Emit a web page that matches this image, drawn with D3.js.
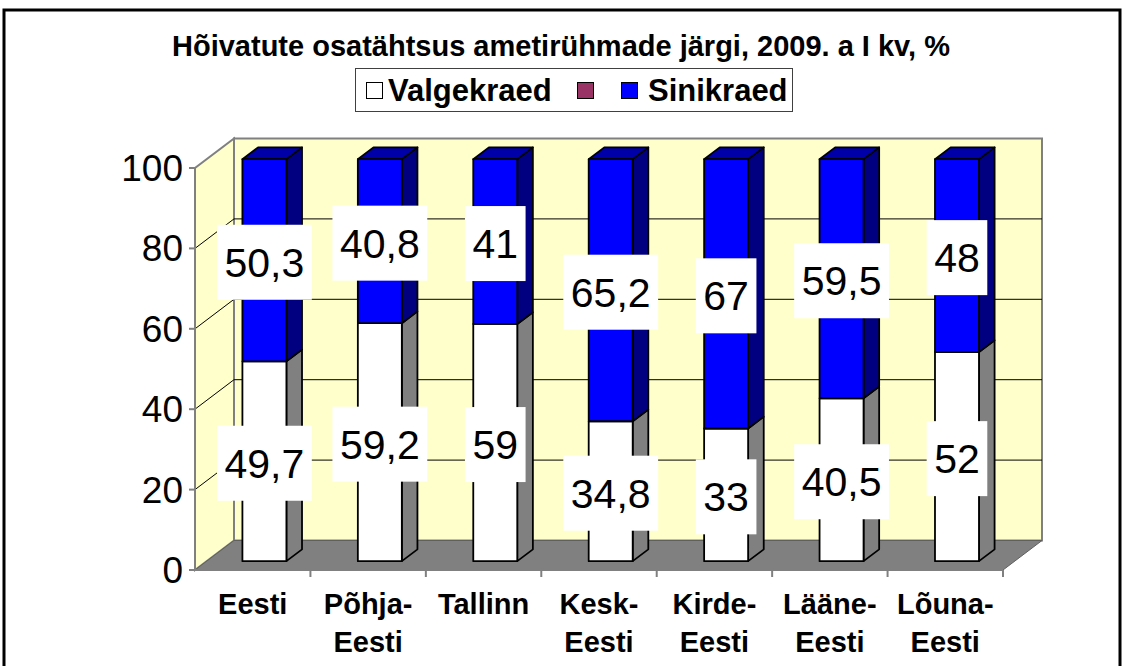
<!DOCTYPE html>
<html>
<head>
  <meta charset="utf-8">
  <title>Hõivatute osatähtsus</title>
  <script src="https://d3js.org/d3.v7.min.js"></script>
  <style>
    body { margin: 0; background: #fff; }
    text { font-family: Arial, "Liberation Sans", sans-serif; }
  </style>
</head>
<body>
<script type="text/javascript">
  // data
  var categories = ["Eesti", "Põhja-Eesti", "Tallinn", "Kesk-Eesti", "Kirde-Eesti", "Lääne-Eesti", "Lõuna-Eesti"];
  var valgekraed = [49.7, 59.2, 59, 34.8, 33, 40.5, 52];
  var sinikraed = [50.3, 40.8, 41, 65.2, 67, 59.5, 48];
  var seriesNames = ["Valgekraed", "", "Sinikraed"];
  var yTicks = [0, 20, 40, 60, 80, 100];
  var title = "Hõivatute osatähtsus ametirühmade järgi, 2009. a I kv, %";

  var w = 1126;
  var h = 666;

  // 3d depth of the plot box
  var DX = 39, DY = -29.5;
  var barW = 44;
  var front = 0.3, depth = 0.4;   // bars sit from 0.3 to 0.7 of the depth

  var svg = d3.select("body").append("svg")
    .attr("width", w)
    .attr("height", h);

  // outer frame
  svg.append("rect")
    .attr("x", 4).attr("y", 10)
    .attr("width", 1116).attr("height", 720)
    .attr("fill", "#fff")
    .attr("stroke", "#000")
    .attr("stroke-width", 3);

  svg.append("text")
    .attr("x", 561).attr("y", 56)
    .attr("text-anchor", "middle")
    .attr("font-size", "29px")
    .attr("font-weight", "bold")
    .text(title);

  var xScale = d3.scaleBand()
    .domain(categories)
    .range([195, 1003]);

  var yScale = d3.scaleLinear()
    .domain([0, 100])
    .range([570, 168]);

  var x0 = xScale.range()[0], x1 = xScale.range()[1];
  var yb = yScale(0), yt = yScale(100);

  // walls and floor
  var walls = svg.append("g");
  walls.append("polygon")
    .attr("points", [[x0 + DX, yt + DY], [x1 + DX, yt + DY], [x1 + DX, yb + DY], [x0 + DX, yb + DY]].join(" "))
    .attr("fill", "#FFFFCC")
    .attr("stroke", "#808080")
    .attr("stroke-width", 2);
  walls.append("polygon")
    .attr("points", [[x0, yb], [x0, yt], [x0 + DX, yt + DY], [x0 + DX, yb + DY]].join(" "))
    .attr("fill", "#FFFFCC")
    .attr("stroke", "#808080")
    .attr("stroke-width", 2);

  // gridlines on back and side wall
  var grid = yTicks.filter(function(d){ return d > 0 && d < 100; });
  walls.selectAll("line.gb")
    .data(grid)
    .enter()
    .append("line")
    .attr("x1", x0 + DX).attr("x2", x1 + DX)
    .attr("y1", function(d){ return yScale(d) + DY; })
    .attr("y2", function(d){ return yScale(d) + DY; })
    .attr("stroke", "#000")
    .attr("stroke-width", 1);
  walls.selectAll("line.gs")
    .data(grid)
    .enter()
    .append("line")
    .attr("x1", x0).attr("x2", x0 + DX)
    .attr("y1", function(d){ return yScale(d); })
    .attr("y2", function(d){ return yScale(d) + DY; })
    .attr("stroke", "#000")
    .attr("stroke-width", 1);

  walls.append("polygon")
    .attr("points", [[x0, yb], [x1, yb], [x1 + DX, yb + DY], [x0 + DX, yb + DY]].join(" "))
    .attr("fill", "#808080")
    .attr("stroke", "#606060")
    .attr("stroke-width", 1);

  // axes
  svg.append("line")
    .attr("x1", x0).attr("x2", x0)
    .attr("y1", yb).attr("y2", yt)
    .attr("stroke", "#808080").attr("stroke-width", 2);
  svg.append("line")
    .attr("x1", x0).attr("x2", x1)
    .attr("y1", yb).attr("y2", yb)
    .attr("stroke", "#808080").attr("stroke-width", 2);

  svg.selectAll("line.yt")
    .data(yTicks)
    .enter()
    .append("line")
    .attr("x1", x0 - 6).attr("x2", x0)
    .attr("y1", function(d){ return yScale(d); })
    .attr("y2", function(d){ return yScale(d); })
    .attr("stroke", "#808080").attr("stroke-width", 2);

  svg.selectAll("text.yl")
    .data(yTicks)
    .enter()
    .append("text")
    .attr("x", 183)
    .attr("y", function(d){ return yScale(d) + 13; })
    .attr("text-anchor", "end")
    .attr("font-size", "37px")
    .text(function(d){ return d; });

  svg.selectAll("line.xt")
    .data(categories)
    .enter()
    .append("line")
    .attr("x1", function(d){ return xScale(d) + xScale.bandwidth(); })
    .attr("x2", function(d){ return xScale(d) + xScale.bandwidth(); })
    .attr("y1", yb).attr("y2", yb + 7)
    .attr("stroke", "#808080").attr("stroke-width", 2);

  // category labels, broken after the hyphen
  svg.selectAll("text.xl")
    .data(categories)
    .enter()
    .append("text")
    .attr("text-anchor", "middle")
    .attr("font-size", "29px")
    .attr("font-weight", "bold")
    .each(function(d){
      var parts = d.indexOf("-") > 0 ? [d.slice(0, d.indexOf("-") + 1), d.slice(d.indexOf("-") + 1)] : [d];
      var cx = xScale(d) + xScale.bandwidth() / 2;
      d3.select(this).selectAll("tspan")
        .data(parts)
        .enter()
        .append("tspan")
        .attr("x", cx)
        .attr("y", function(p, i){ return 614 + i * 38; })
        .text(function(p){ return p; });
    });

  // stacked bars
  var rows = categories.map(function(c, i){
    return { cat: c, Valgekraed: valgekraed[i], Sinikraed: sinikraed[i] };
  });
  var stack = d3.stack().keys(["Valgekraed", "Sinikraed"])(rows);
  var colors = {
    Valgekraed: { front: "#FFFFFF", side: "#808080", top: "#C0C0C0" },
    Sinikraed: { front: "#0000FF", side: "#000080", top: "#0000A8" }
  };

  var fx = DX * front, fy = DY * front;
  var bdx = DX * depth, bdy = DY * depth;

  var bars = svg.append("g");
  var labels = [];
  rows.forEach(function(r, i){
    stack.forEach(function(s, k){
      var seg = s[i];
      var c = colors[s.key];
      var bx = xScale(r.cat) + xScale.bandwidth() / 2 - barW / 2 + fx;
      var ybot = yScale(seg[0]) + fy;
      var ytop = yScale(seg[1]) + fy;
      var g = bars.append("g")
        .attr("stroke", "#000")
        .attr("stroke-width", 1.8)
        .attr("stroke-linejoin", "round");
      g.append("polygon")
        .attr("points", [[bx + barW, ytop], [bx + barW + bdx, ytop + bdy], [bx + barW + bdx, ybot + bdy], [bx + barW, ybot]].join(" "))
        .attr("fill", c.side);
      if (k === stack.length - 1) {
        g.append("polygon")
          .attr("points", [[bx, ytop], [bx + bdx, ytop + bdy], [bx + barW + bdx, ytop + bdy], [bx + barW, ytop]].join(" "))
          .attr("fill", c.top);
      }
      g.append("rect")
        .attr("x", bx).attr("y", ytop)
        .attr("width", barW).attr("height", ybot - ytop)
        .attr("fill", c.front);
      labels.push({ x: bx + barW / 2, y: (ybot + ytop) / 2 + 2, v: seg[1] - seg[0] });
    });
  });

  // data labels in white boxes
  var fmt = function(v){ return String(Math.round(v * 10) / 10).replace(".", ","); };
  var lab = svg.selectAll("g.lab")
    .data(labels)
    .enter()
    .append("g");
  lab.append("rect").attr("fill", "#fff");
  lab.append("text")
    .attr("x", function(d){ return d.x; })
    .attr("y", function(d){ return d.y + 41 * 0.358; })
    .attr("text-anchor", "middle")
    .attr("font-size", "41px")
    .text(function(d){ return fmt(d.v); });
  lab.each(function(d){
    var tw = d3.select(this).select("text").node().getComputedTextLength();
    d3.select(this).select("rect")
      .attr("x", d.x - tw / 2 - 7.5)
      .attr("y", d.y - 37.5)
      .attr("width", tw + 15)
      .attr("height", 75);
  });

  // legend
  var legendColors = ["#FFFFFF", "#993366", "#0000FF"];
  var legendMarkX = [366, 577, 621];
  var legendTextX = [388, 598, 648];
  var legend = svg.append("g");
  legend.append("rect")
    .attr("x", 355.5).attr("y", 68.5)
    .attr("width", 437).attr("height", 43)
    .attr("fill", "#fff")
    .attr("stroke", "#404040")
    .attr("stroke-width", 1);
  legend.selectAll("rect.m")
    .data(seriesNames)
    .enter()
    .append("rect")
    .attr("x", function(d, i){ return legendMarkX[i] + 0.5; })
    .attr("y", 82.5)
    .attr("width", 16).attr("height", 16)
    .attr("fill", function(d, i){ return legendColors[i]; })
    .attr("stroke", "#000")
    .attr("stroke-width", 1);
  legend.selectAll("text.lt")
    .data(seriesNames)
    .enter()
    .append("text")
    .attr("x", function(d, i){ return legendTextX[i]; })
    .attr("y", 101)
    .attr("font-size", "31px")
    .attr("font-weight", "bold")
    .text(function(d){ return d; });
</script>
</body>
</html>
